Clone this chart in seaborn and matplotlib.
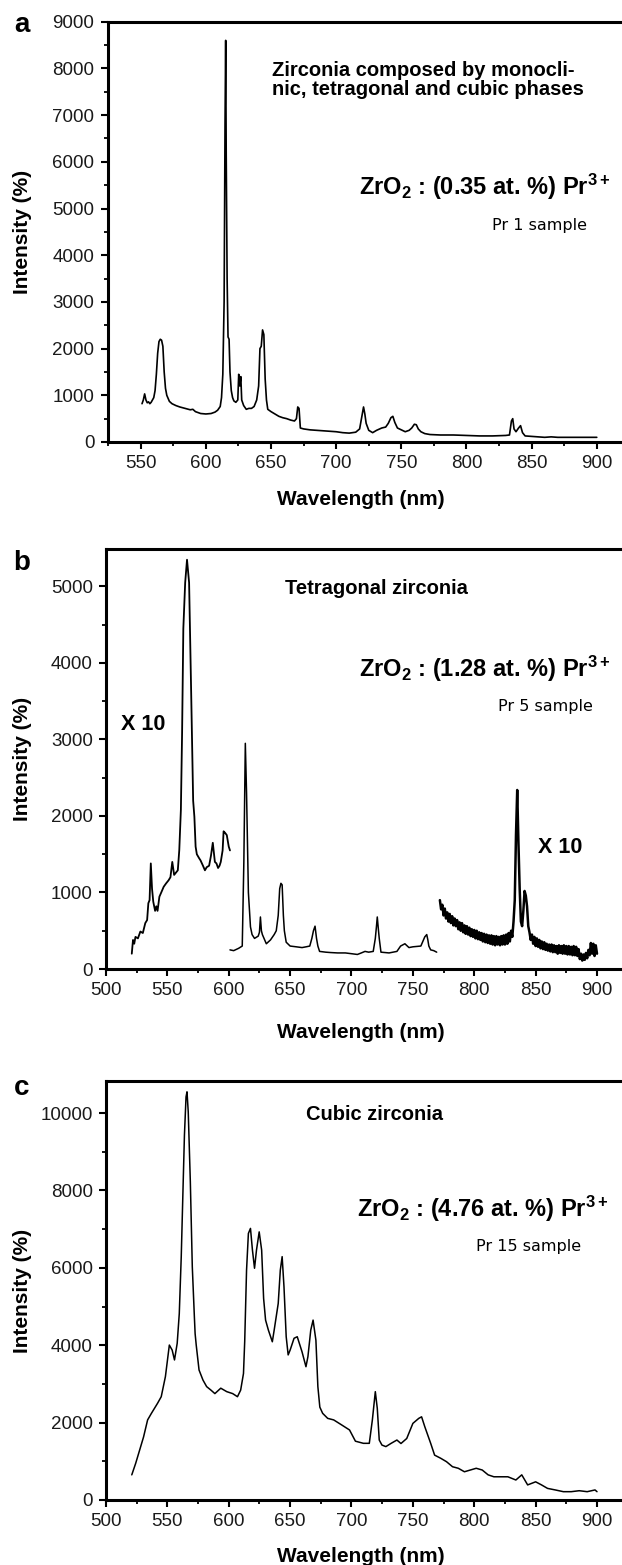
import numpy as np
import pandas as pd
import matplotlib
matplotlib.use("Agg")
import matplotlib.pyplot as plt
import seaborn as sns
from matplotlib.ticker import MultipleLocator

# ---------------- data ----------------
wl_a = [551, 552, 553, 554, 555, 556, 557, 558, 559, 560, 561, 562, 563, 564, 565, 566, 567, 568, 569, 570,
        572, 574, 577, 580, 584, 588, 590, 592, 596, 600, 604, 607, 609, 611, 612, 613, 614, 614.7, 615.2, 615.6,
        616.3, 617, 617.8, 618.5, 619.5, 620.5, 621.5, 623, 624.5, 625.2, 626, 626.8, 627.5, 629, 631, 633, 635,
        637, 639, 640.5, 641.5, 642.5, 643.5, 644.5, 645.5, 646.5, 647.5, 650, 653, 656, 659, 662, 665, 668,
        669.5, 670.5, 671.5, 672.5, 675, 680, 685, 690, 695, 700, 705, 710, 715, 718, 720, 721, 722, 723, 725,
        728, 731, 735, 738, 740, 742, 743.5, 745, 747, 750, 753, 756, 758, 760, 761.5, 763, 765, 768, 772, 780,
        790, 800, 810, 820, 830, 833, 834.5, 835.5, 836.5, 838, 840, 841.5, 843, 845, 850, 860, 865, 870, 880,
        890, 900]
int_a = [820, 900, 1030, 900, 840, 860, 820, 850, 900, 950, 1100, 1450, 1900, 2150, 2200, 2180, 2050, 1500, 1150, 1000,
         870, 820, 780, 750, 720, 690, 700, 650, 610, 600, 610, 640, 680, 760, 950, 1450, 3000, 6800, 8600, 6200,
         3500, 2250, 2200, 1500, 1100, 950, 880, 850, 900, 1450, 1200, 1400, 900, 780, 700, 720, 720,
         760, 900, 1200, 2000, 2050, 2400, 2300, 1350, 900, 700, 650, 600, 550, 520, 500, 470, 450,
         500, 750, 720, 300, 280, 260, 250, 240, 230, 220, 200, 190, 210, 280, 600, 750, 600, 400, 250,
         200, 250, 300, 320, 400, 520, 550, 420, 300, 260, 220, 250, 300, 380, 370, 280, 220, 180, 160, 150,
         150, 140, 130, 130, 140, 150, 450, 500, 280, 220, 300, 350, 200, 130, 120, 100, 110, 100, 100,
         100, 100]

# panel b, segment 1 (x10)
wl_b1 = [521, 522, 523, 524, 526, 528, 530, 532, 533.5, 534.5, 535.5, 536.5, 537.5, 538.5, 540, 541, 542, 543.5,
         545, 547, 549, 551, 552.5, 554, 555.5, 557, 558.5, 559.7, 561, 562, 563, 564.5, 566, 567.7, 569.4, 571,
         572, 573, 574, 575.8, 577, 579, 580.6, 582, 584, 585.5, 587, 588.7, 590, 591.3, 592.5, 593.5, 595,
         595.8, 597, 598.4, 600, 601]
int_b1 = [200, 380, 330, 420, 400, 490, 470, 600, 640, 860, 900, 1380, 1050, 880, 760, 820, 760, 945,
          1000, 1075, 1120, 1160, 1200, 1400, 1230, 1260, 1290, 1555, 2080, 3100, 4450, 5050, 5350, 5050, 3600, 2200,
          1990, 1600, 1500, 1450, 1420, 1350, 1290, 1330, 1350, 1480, 1650, 1400, 1380, 1320, 1350, 1400, 1550,
          1800, 1780, 1750, 1600, 1550]

# panel b, segment 2
wl_b2 = [601, 604, 608, 611, 612.3, 613.5, 614.5, 616, 617.7, 619, 621, 624, 625, 625.8, 626.6, 627.4, 630.6,
         634, 637, 638.7, 640.3, 641.5, 642.5, 643.5, 644.5, 645.3, 646.8, 650, 655, 659.7, 663, 666, 667.7,
         669, 670.3, 671.5, 672.6, 674, 679, 683, 688.7, 695, 700, 704.8, 708, 711, 714, 717.7, 719.4, 720.3,
         721, 722, 722.6, 724, 730.6, 737, 740, 743.5, 746.8, 750, 756.5, 759.7, 761.3, 762.2, 763, 764.5, 767,
         769.4]
int_b2 = [250, 240, 270, 300, 1400, 2950, 2300, 1000, 550, 450, 400, 430, 480, 680, 500, 450, 330,
          380, 450, 500, 700, 1050, 1120, 1100, 700, 500, 350, 300, 290, 280, 290, 300, 400,
          500, 560, 400, 300, 230, 220, 215, 210, 210, 200, 190, 210, 230, 220, 230, 400, 550,
          680, 500, 400, 220, 210, 230, 300, 330, 280, 290, 300, 420, 450, 380, 300, 250, 240,
          220]

# panel b, segment 3 (x10)
wl_b3 = list(range(772, 901))
int_b3 = [900, 780, 840, 700, 790, 660, 740, 620, 720, 600, 690, 570, 660, 560, 640, 520, 610, 500, 600, 480,
          570, 460, 560, 450, 540, 430, 520, 420, 510, 400, 500, 390, 480, 380, 470, 360, 460, 350, 450, 340,
          440, 330, 440, 320, 430, 310, 430, 320, 420, 310, 430, 320, 440, 320, 450, 330, 470, 360, 500, 420,
          620, 900, 1750, 2340, 1650, 1050, 620, 560, 760, 1020, 960, 820, 560, 480, 380, 450, 330, 420, 300,
          400, 290, 380, 270, 360, 260, 350, 250, 330, 240, 320, 230, 320, 220, 310, 220, 300, 200, 310, 210,
          300, 200, 310, 200, 300, 190, 300, 190, 290, 180, 300, 180, 290, 170, 260, 130, 200, 110, 190, 120,
          210, 140, 250, 180, 340, 200, 330, 170, 310, 200]

# panel c
wl_c = [521, 524.2, 527.4, 530.6, 533.9, 537, 542, 545, 548.4, 551.6, 553.9, 555.8, 558, 559.7, 561.3, 562.9,
        563.9, 565.2, 566, 567, 568.7, 570.3, 572, 572.6, 573.5, 575.8, 579, 582, 585.5, 588.7, 593.5, 598.4,
        603.2, 607.1, 609.7, 612, 613, 614.5, 616, 617.7, 619.3, 621, 622.6, 624.8, 626.8, 628.4, 630, 632.3,
        635.5, 637, 640.3, 642, 643.5, 645, 646.8, 648.4, 650, 653.2, 655.8, 659.7, 662.9, 664.5, 666.8, 668.7,
        671, 672.6, 674.2, 676.5, 680.6, 685.5, 692, 698.4, 703.2, 709.7, 714.5, 717, 719.4, 721, 722.6, 724.8,
        728, 732.3, 737, 740.3, 745, 750, 754.8, 757.1, 759.7, 764.5, 767.7, 772.6, 777.4, 782.3, 787, 792,
        796.8, 801.6, 806.5, 811.3, 816, 821, 827.4, 833.9, 838.7, 843.5, 850, 854.8, 859.7, 866, 872.6, 879,
        885.5, 892, 898.4, 900]
int_c = [650, 950, 1290, 1630, 2070, 2240, 2500, 2670, 3190, 4005, 3875, 3620, 4050, 4820, 6290, 8230,
         9430, 10420, 10550, 10030, 8230, 6030, 4730, 4300, 4005, 3360, 3100, 2930, 2840, 2750, 2890, 2800,
         2750, 2670, 2840, 3270, 4100, 5940, 6890, 7020, 6460, 5990, 6460, 6930, 6460, 5210, 4650, 4390,
         4090, 4390, 5080, 5940, 6290, 5510, 4220, 3750, 3875, 4180, 4220, 3830, 3445, 3705, 4390, 4650,
         4130, 2930, 2400, 2240, 2110, 2070, 1940, 1810, 1520, 1465, 1465, 2070, 2800, 2370, 1550, 1420,
         1380, 1465, 1550, 1460, 1590, 1980, 2110, 2150, 1895, 1465, 1160, 1080, 990, 860, 820, 730,
         775, 820, 775, 650, 600, 600, 600, 517, 650, 390, 470, 390, 300, 260, 215, 215,
         240, 215, 260, 215]

panel_letters = ["a", "b", "c"]
phase_texts = ["Zirconia composed by monocli-\nnic, tetragonal and cubic phases",
               "Tetragonal zirconia", "Cubic zirconia"]
compositions = ["0.35", "1.28", "4.76"]
sample_names = ["Pr 1 sample", "Pr 5 sample", "Pr 15 sample"]
x_label = "Wavelength (nm)"
y_label = "Intensity (%)"
mult_label = "X 10"

# ---------------- style ----------------
sns.set_theme(style="white")
plt.rcParams["font.family"] = ["Liberation Sans", "DejaVu Sans"]
plt.rcParams["text.color"] = "black"
plt.rcParams["axes.labelcolor"] = "black"
plt.rcParams["mathtext.fontset"] = "custom"
plt.rcParams["mathtext.rm"] = "Liberation Sans"
plt.rcParams["mathtext.bf"] = "Liberation Sans:bold"
plt.rcParams["mathtext.default"] = "bf"

W, H = 622, 1565
fig = plt.figure(figsize=(W / 100, H / 100), dpi=100)
fig.patch.set_facecolor("white")


def fx(x):
    return x / W


def fy(y):
    return 1 - y / H


def make_axes(left, top, bottom, xlim, px_per_nm, ylim):
    width = (xlim[1] - xlim[0]) * px_per_nm
    ax = fig.add_axes([fx(left), fy(bottom), width / W, (bottom - top) / H])
    ax.set_xlim(*xlim)
    ax.set_ylim(*ylim)
    ax.set_facecolor("white")
    for s in ["left", "bottom", "top"]:
        ax.spines[s].set_linewidth(2.2)
        ax.spines[s].set_color("black")
    ax.spines["right"].set_visible(False)
    ax.tick_params(which="major", direction="out", length=5, width=1.5, color="black",
                   labelsize=13.5, labelcolor="#1a1a1a", pad=4.5, top=False, right=False,
                   bottom=True, left=True)
    ax.tick_params(which="minor", direction="out", length=3.2, width=1.3, color="black",
                   top=False, right=False, bottom=True, left=True)
    ax.grid(False)
    return ax, width, bottom - top


cfg = [
    dict(left=107.5, top=21.7, bottom=442, xlim=(524.5, 930), ppn=1.303, ylim=(0, 9000),
         ymaj=1000, ymin=500),
    dict(left=106, top=549, bottom=969, xlim=(500, 930), ppn=1.2275, ylim=(0, 5490),
         ymaj=1000, ymin=500),
    dict(left=106, top=1081, bottom=1500, xlim=(500, 930), ppn=1.2275, ylim=(0, 10830),
         ymaj=2000, ymin=1000),
]

series = [
    [(wl_a, int_a, 1.2)],
    [(wl_b1, int_b1, 1.3), (wl_b2, int_b2, 1.1), (wl_b3, int_b3, 1.8)],
    [(wl_c, int_c, 1.1)],
]

axes = []
for i, c in enumerate(cfg):
    ax, wpx, hpx = make_axes(c["left"], c["top"], c["bottom"], c["xlim"], c["ppn"], c["ylim"])
    for xs, ys, lw in series[i]:
        df = pd.DataFrame({"wl": xs, "I": ys})
        sns.lineplot(data=df, x="wl", y="I", ax=ax, color="black", linewidth=lw,
                     estimator=None, sort=False)
    ax.xaxis.set_major_locator(MultipleLocator(50))
    ax.xaxis.set_minor_locator(MultipleLocator(25))
    ax.yaxis.set_major_locator(MultipleLocator(c["ymaj"]))
    ax.yaxis.set_minor_locator(MultipleLocator(c["ymin"]))
    ax.set_xticks([t for t in range(500, 901, 50) if t >= c["xlim"][0]])
    ax.set_xlabel(x_label, fontsize=15, fontweight="bold", color="black")
    ax.set_ylabel(y_label, fontsize=15, fontweight="bold", color="black")
    axes.append((ax, wpx, hpx))

# axis label placement (pixel targets)
xlabel_base = [505, 1038, 1562]
for i, (ax, wpx, hpx) in enumerate(axes):
    c = cfg[i]
    ax.xaxis.set_label_coords((361 - c["left"]) / wpx, -(xlabel_base[i] - c["bottom"]) / hpx)
    ax.xaxis.label.set_va("baseline")
    ax.yaxis.set_label_coords((23 - c["left"]) / wpx, 0.5)
    ax.yaxis.label.set_va("center")
    ax.yaxis.label.set_ha("center")

# panel letters
letter_pos = [(22, 32), (22, 570), (22, 1095)]
for t, (x, y) in zip(panel_letters, letter_pos):
    fig.text(fx(x), fy(y), t, fontsize=20, fontweight="bold", ha="center", va="baseline", color="black")

# phase descriptions
fig.text(fx(272), fy(76), phase_texts[0].split("\n")[0], fontsize=14.5, fontweight="bold",
         ha="left", va="baseline", color="black")
fig.text(fx(272), fy(95), phase_texts[0].split("\n")[1], fontsize=14.5, fontweight="bold",
         ha="left", va="baseline", color="black")
fig.text(fx(285), fy(594), phase_texts[1], fontsize=14.5, fontweight="bold", ha="left",
         va="baseline", color="black")
fig.text(fx(306), fy(1120), phase_texts[2], fontsize=14.5, fontweight="bold", ha="left",
         va="baseline", color="black")

# compositions
comp_pos = [(359, 195), (359, 677), (357, 1217)]
for comp, (x, y) in zip(compositions, comp_pos):
    fig.text(fx(x), fy(y), "ZrO$_{2}$ : (" + comp + " at. %) Pr$^{3+}$", fontsize=17,
             fontweight="bold", ha="left", va="baseline", color="black")

# sample names
samp_pos = [(492, 230), (498, 711), (476, 1251)]
for s, (x, y) in zip(sample_names, samp_pos):
    fig.text(fx(x), fy(y), s, fontsize=11.5, family=["DejaVu Sans"], ha="left", va="baseline",
             color="black")

# x10 markers
fig.text(fx(121), fy(730), mult_label, fontsize=15.5, fontweight="bold", ha="left", va="baseline",
         color="black")
fig.text(fx(538), fy(853), mult_label, fontsize=15.5, fontweight="bold", ha="left", va="baseline",
         color="black")

fig.savefig("out.png", dpi=100, facecolor="white")
